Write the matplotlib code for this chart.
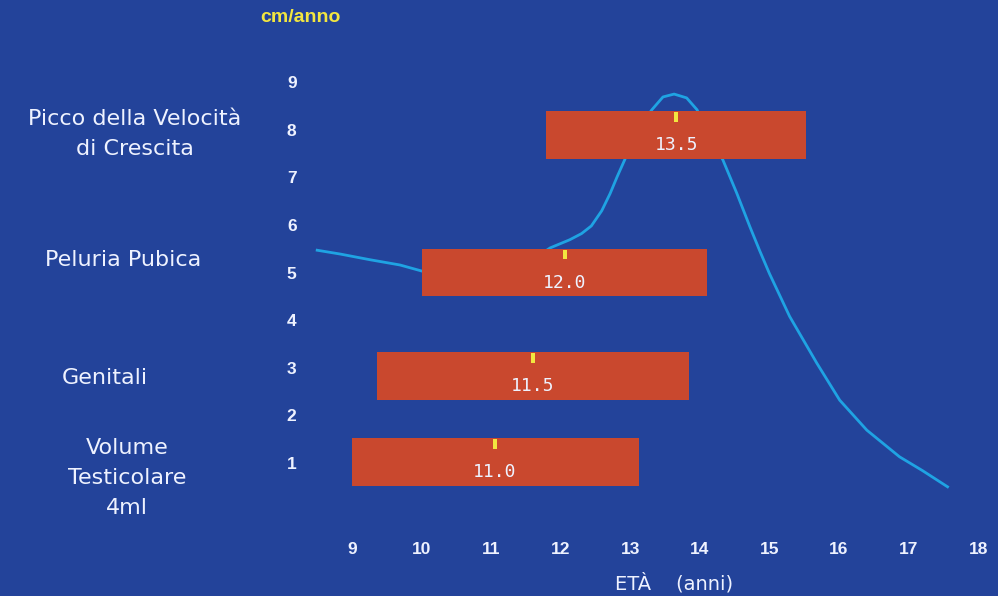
import matplotlib.pyplot as plt

# =======================================
#   DATI
# =======================================

eta_ticks = [9, 10, 11, 12, 13, 14, 15, 16, 17, 18]
vel_ticks = [1, 2, 3, 4, 5, 6, 7, 8, 9]

# barre: inizio / fine (anni), livello y, mediana
bar_inizio = [9.0, 9.36, 10.0, 11.79]
bar_fine = [13.12, 13.84, 14.1, 15.52]
bar_y = [1.02, 2.83, 5.0, 7.89]
mediana = [11.0, 11.5, 12.0, 13.5]
mediana_pos = [11.05, 11.6, 12.06, 13.66]

categorie = ["Volume\nTesticolare\n4ml", "Genitali", "Peluria Pubica",
             "Picco della Velocità\ndi Crescita"]
cat_x = [127, 105, 123, 135]
cat_y = [478, 378, 260, 134]

# curva velocità di crescita (cm/anno)
curva_eta = [8.50, 8.83, 9.26, 9.69, 10.01, 10.55, 11.13, 11.56, 11.85,
             12.13, 12.30, 12.44, 12.59, 12.71, 12.81, 12.92, 13.02, 13.14,
             13.31, 13.47, 13.63, 13.81, 13.96, 14.07, 14.20, 14.33, 14.53,
             14.72, 14.86, 15.00, 15.29, 15.68, 16.01, 16.40, 16.87, 17.20,
             17.56]
curva_vel = [5.47, 5.39, 5.27, 5.16, 5.03, 4.95, 4.98, 5.24, 5.52,
             5.69, 5.82, 5.98, 6.30, 6.66, 7.01, 7.37, 7.72, 8.08,
             8.42, 8.69, 8.75, 8.67, 8.42, 8.06, 7.72, 7.37, 6.67,
             5.96, 5.46, 4.98, 4.08, 3.10, 2.32, 1.69, 1.13, 0.84,
             0.50]

# =======================================
#   GRAFICO
# =======================================

sfondo = "#23439a"
rosso = "#c9482e"
giallo = "#f2e640"
ciano = "#1fa3e3"
bianco = "#eef2ff"

fig = plt.figure(figsize=(9.98, 5.96), dpi=100, facecolor=sfondo)
ax = fig.add_axes([316 / 998, 96 / 596, 674 / 998, 430 / 596])
ax.set_facecolor(sfondo)
ax.set_xlim(8.483, 18.17)
ax.set_ylim(0.223, 9.256)
for s in ax.spines.values():
    s.set_visible(False)

ax.plot(curva_eta, curva_vel, color=ciano, lw=2, zorder=1, clip_on=False,
        solid_joinstyle="round")

h = 1.0
for x0, x1, y, m, mp in zip(bar_inizio, bar_fine, bar_y, mediana, mediana_pos):
    ax.barh(y, x1 - x0, left=x0, height=h, color=rosso, zorder=2)
    ax.bar(mp, 0.2, bottom=y + h / 2 - 0.22, width=0.055, color=giallo, zorder=3)
    ax.text(mp, y - 0.21, f"{m:.1f}", color=bianco, fontsize=13,
            family="DejaVu Sans Mono", ha="center", va="center", zorder=4)

ax.set_xticks(eta_ticks)
ax.set_yticks(vel_ticks)
ax.tick_params(length=0, colors=bianco, labelsize=12.5)
ax.tick_params(axis="x", pad=30)
ax.tick_params(axis="y", pad=14)
for lab in ax.get_xticklabels() + ax.get_yticklabels():
    lab.set_fontfamily("Liberation Sans")
    lab.set_fontweight("bold")

W, H = 998, 596
for t, x, y in zip(categorie, cat_x, cat_y):
    fig.text(x / W, 1 - y / H, t, color=bianco, fontsize=16,
             ha="center", va="center", linespacing=1.65)

fig.text(300 / W, 1 - 18 / H, "cm/anno", color=giallo, fontsize=14,
         fontweight="bold", family="Liberation Sans", ha="center", va="center")
fig.text(674 / W, 1 - 583 / H, "ETÀ    (anni)", color=bianco, fontsize=14,
         ha="center", va="center")

fig.savefig("out.png", dpi=100, facecolor=sfondo)
